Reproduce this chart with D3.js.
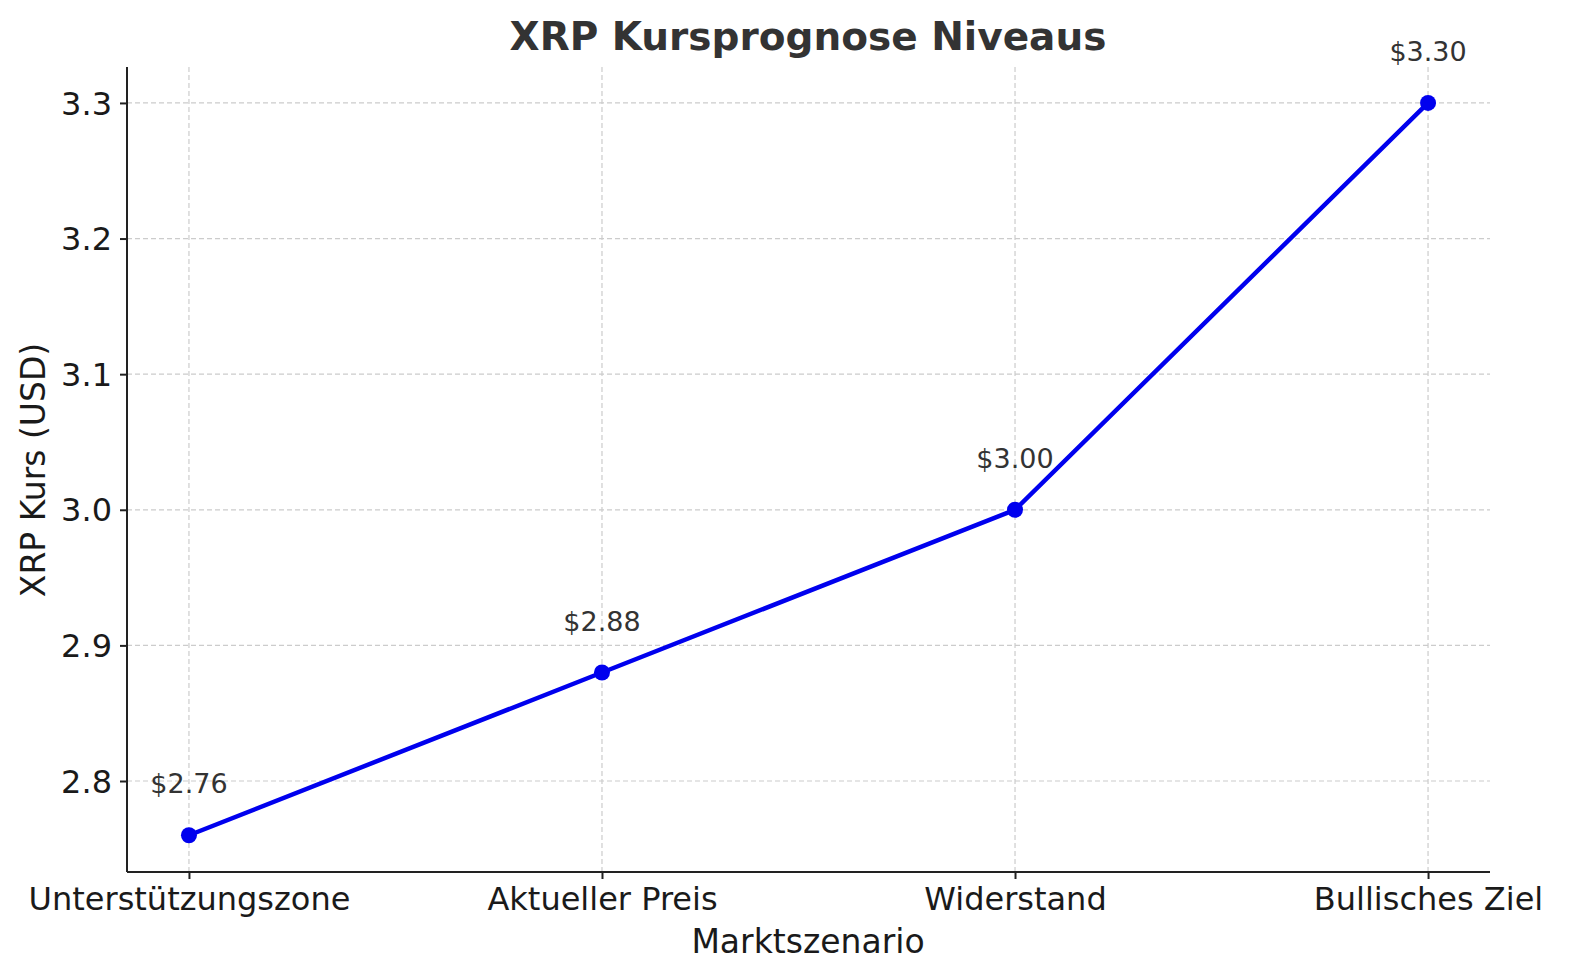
<!DOCTYPE html>
<html><head><meta charset="utf-8">
<script src="https://cdn.jsdelivr.net/npm/d3@7"></script>
<style>body{margin:0;background:#fff}svg{font-family:"DejaVu Sans",sans-serif}</style>
</head><body><svg id="c" width="1570" height="980"></svg>
<script>
const categories=["Unterstützungszone","Aktueller Preis","Widerstand","Bullisches Ziel"];
const values=[2.76,2.88,3.00,3.30];
const labels=["$2.76","$2.88","$3.00","$3.30"];
const yTicks=[2.8,2.9,3.0,3.1,3.2,3.3];
const svg=d3.select("#c");
const L=127,R=1490,T=67,B=872;
const x=d3.scalePoint().domain(categories).range([L,R]).padding(0.15);
const y=d3.scaleLinear().domain([2.7329,3.3265]).range([B,T]);
const g=svg.append("g");
g.selectAll(".gy").data(yTicks).join("line").attr("x1",L).attr("x2",R).attr("y1",d=>y(d)).attr("y2",d=>y(d)).attr("stroke","#ccc").attr("stroke-dasharray","5,3").attr("stroke-width",1.2);
g.selectAll(".gx").data(categories).join("line").attr("y1",T).attr("y2",B).attr("x1",d=>x(d)).attr("x2",d=>x(d)).attr("stroke","#ccc").attr("stroke-dasharray","5,3").attr("stroke-width",1.2);
const ax=svg.append("g").attr("transform",`translate(0,${B})`).call(d3.axisBottom(x).tickSize(7).tickPadding(8));
const ay=svg.append("g").attr("transform",`translate(${L},0)`).call(d3.axisLeft(y).tickValues(yTicks).tickFormat(d3.format(".1f")).tickSize(7).tickPadding(8));
[ax,ay].forEach(a=>{a.selectAll("text").attr("font-size",32).attr("fill","#1a1a1a").attr("font-family","DejaVu Sans");a.selectAll("line,path").attr("stroke","#222").attr("stroke-width",2);});
ay.selectAll("text").attr("dy","0.35em");
ax.select(".domain").attr("d",`M${L},0H${R}`);
ay.select(".domain").attr("d",`M0,${B}V${T}`);
const pts=categories.map((c,i)=>[x(c),y(values[i])]);
svg.append("path").attr("d",d3.line()(pts)).attr("fill","none").attr("stroke","#0000ee").attr("stroke-width",4.5);
svg.selectAll(".pt").data(pts).join("circle").attr("cx",d=>d[0]).attr("cy",d=>d[1]).attr("r",8).attr("fill","#0000ee");
svg.selectAll(".lb").data(pts).join("text").attr("x",d=>d[0]).attr("y",d=>d[1]-42).attr("text-anchor","middle").attr("font-size",27).attr("fill","#333").text((d,i)=>labels[i]);
svg.append("text").attr("x",808).attr("y",50).attr("text-anchor","middle").attr("font-size",39).attr("font-weight","bold").attr("fill","#333").text("XRP Kursprognose Niveaus");
svg.append("text").attr("x",808).attr("y",953).attr("text-anchor","middle").attr("font-size",33).attr("fill","#1a1a1a").text("Marktszenario");
svg.append("text").attr("transform","translate(45,470) rotate(-90)").attr("text-anchor","middle").attr("font-size",33).attr("fill","#1a1a1a").text("XRP Kurs (USD)");
</script></body></html>
